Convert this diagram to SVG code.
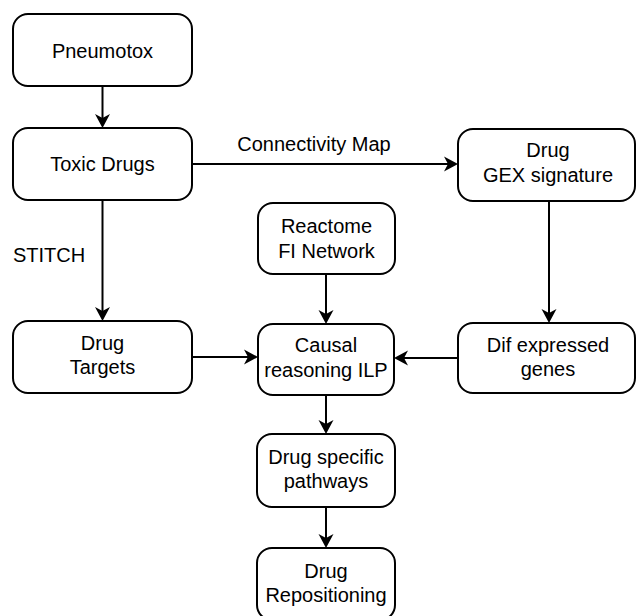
<svg xmlns="http://www.w3.org/2000/svg" width="636" height="616" viewBox="0 0 636 616">
  <style>
    .box { fill: #ffffff; stroke: #000000; stroke-width: 2; }
    .t { font-family: "Liberation Sans", Arial, Helvetica, sans-serif; font-size: 20px; fill: #000000; text-anchor: middle; }
    .lbl { font-family: "Liberation Sans", Arial, Helvetica, sans-serif; font-size: 20px; fill: #000000; }
    .edge { fill: none; stroke: #000000; stroke-width: 2; marker-end: url(#arrow); }
  </style>
  <defs>
    <marker id="arrow" viewBox="-15 -8 16 16" refX="-4" refY="0" markerWidth="16" markerHeight="16" markerUnits="userSpaceOnUse" orient="auto">
      <path d="M0,0 L-14,-7.5 L-10,0 L-14,7.5 Z" fill="#000000" stroke="none"/>
    </marker>
  </defs>
  <rect width="636" height="616" fill="#ffffff"/>

  <g id="edges">
    <line class="edge" x1="102.5" y1="86" x2="102.5" y2="124"/>
    <line class="edge" x1="192" y1="164" x2="454" y2="164"/>
    <line class="edge" x1="102.5" y1="200" x2="102.5" y2="317"/>
    <line class="edge" x1="192" y1="357" x2="254" y2="357"/>
    <line class="edge" x1="326" y1="274" x2="326" y2="320"/>
    <line class="edge" x1="549" y1="201" x2="549" y2="319"/>
    <line class="edge" x1="458" y1="358" x2="398" y2="358"/>
    <line class="edge" x1="326" y1="395" x2="326" y2="430"/>
    <line class="edge" x1="326" y1="507" x2="326" y2="544"/>
    <text class="t" x="314" y="151">Connectivity Map</text>
    <text class="lbl" x="13" y="262">STITCH</text>
  </g>

  <g id="pneumotox">
    <rect class="box" x="13" y="14" width="179" height="72" rx="15" ry="15"/>
    <text class="t" x="102.5" y="58">Pneumotox</text>
  </g>
  <g id="toxic-drugs">
    <rect class="box" x="13" y="128" width="179" height="72" rx="15" ry="15"/>
    <text class="t" x="102.5" y="171">Toxic Drugs</text>
  </g>
  <g id="drug-gex">
    <rect class="box" x="458" y="129" width="177" height="72" rx="15" ry="15"/>
    <text class="t" x="548" y="157">Drug</text>
    <text class="t" x="548" y="182">GEX signature</text>
  </g>
  <g id="reactome">
    <rect class="box" x="258" y="203" width="137" height="71" rx="15" ry="15"/>
    <text class="t" x="326.5" y="233">Reactome</text>
    <text class="t" x="326.5" y="258">FI Network</text>
  </g>
  <g id="drug-targets">
    <rect class="box" x="13" y="321" width="179" height="72" rx="15" ry="15"/>
    <text class="t" x="102.5" y="350">Drug</text>
    <text class="t" x="102.5" y="374">Targets</text>
  </g>
  <g id="causal">
    <rect class="box" x="258" y="324" width="136" height="71" rx="15" ry="15"/>
    <text class="t" x="326" y="352">Causal</text>
    <text class="t" x="326" y="377">reasoning ILP</text>
  </g>
  <g id="dif-genes">
    <rect class="box" x="458" y="323" width="177" height="70" rx="15" ry="15"/>
    <text class="t" x="548" y="352">Dif expressed</text>
    <text class="t" x="548" y="376">genes</text>
  </g>
  <g id="pathways">
    <rect class="box" x="257" y="434" width="138" height="73" rx="15" ry="15"/>
    <text class="t" x="326" y="464">Drug specific</text>
    <text class="t" x="326" y="488">pathways</text>
  </g>
  <g id="repositioning">
    <rect class="box" x="257" y="548" width="138" height="72" rx="15" ry="15"/>
    <text class="t" x="326" y="578">Drug</text>
    <text class="t" x="326" y="602">Repositioning</text>
  </g>
</svg>
